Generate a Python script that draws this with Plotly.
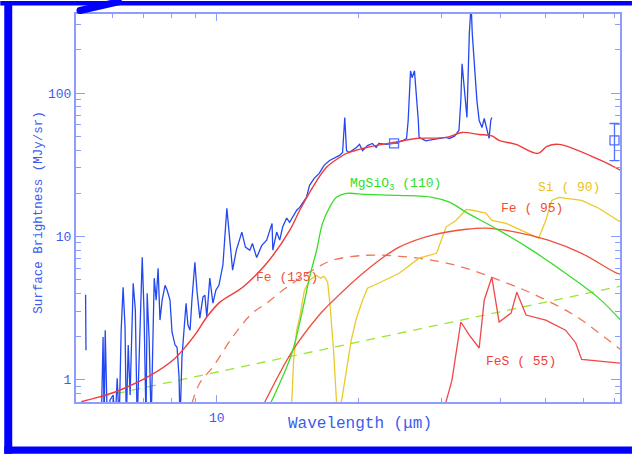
import plotly.graph_objects as go

# ---------------- data (wavelength in micron, surface brightness in MJy/sr) -------------
obs_wl = [5.26, 5.27, None,
          5.68, 5.73, 5.76, 5.79, 5.85, 5.93, 6.02, 6.08, 6.14, 6.20, 6.26, 6.32, 6.38, 6.42,
          6.48, 6.54, 6.64, 6.71, 6.77, 6.87, 6.94, 7.00, 7.07, 7.11, 7.18, 7.25, 7.36, 7.43,
          7.50, 7.57, 7.65, 7.76, 7.84, 7.95, 8.03, 8.15, 8.23, 8.31, 8.35, 8.43, 8.51, 8.60,
          8.68, 8.77, 8.85, 8.98, 9.07, 9.20, 9.34, 9.43, 9.52, 9.66, 9.81, 9.95, 10.1, 10.3,
          10.5, 10.65, 10.8, 11.0, 11.3, 11.5, 11.75, 11.9, 12.15, 12.45, 12.76, 13.1, 13.15,
          13.4, 13.6, 13.8, 14.07, 14.28, 14.78, 15.0, 15.5, 15.74, 16.1, 16.5, 16.9, 17.36,
          17.96, 18.23, 18.5, 18.7, 18.86, 19.1, 19.8, 20.1, 20.4, 20.9, 21.4, 21.8, 22.1,
          22.9, 23.8, 24.8, 25.3, 25.5, 25.8, 26.0, 26.3, 26.5, 26.8, 26.9, 27.8, 28.7, 29.7,
          30.7, 31.2, 32.0, 32.7, 33.0, 33.2, 33.5, 33.9, 34.0, 34.4, 34.7, 34.9, 35.4, 35.7,
          36.1, 36.6, 37.0, 37.5, 37.9, 38.2, 38.4]
obs_sb = [3.9, 1.6, None,
          0.5, 1.98, 0.5, 2.21, 0.5, 0.72, 0.78, 0.5, 1.02, 0.5, 2.21, 4.41, 2.32, 0.5,
          1.74, 0.78, 4.7, 3.05, 0.5, 2.21, 7.14, 3.05, 0.5, 4.0, 1.88, 0.5, 5.1, 3.58,
          5.98, 2.6, 3.58, 4.55, 4.2, 3.58, 2.14, 1.74, 1.68, 1.04, 0.5, 1.44, 2.21, 3.41,
          2.4, 2.21, 3.58, 6.59, 4.2, 2.68, 3.76, 3.88, 2.73, 5.1, 3.41, 4.2, 4.55, 6.3,
          15.7, 9.8, 5.8, 8.0, 10.7, 8.4, 8.0, 8.9, 7.1, 8.6, 9.4, 12.3, 8.0,
          10.7, 9.4, 11.6, 13.4, 12.5, 15.2, 15.9, 18.7, 22.7, 25.4, 27.5, 31.3, 33.8,
          35.5, 36.7, 38.5, 67.5, 39.6, 38.5, 41.7, 43.8, 39.6, 43.0, 44.5, 41.7, 44.5,
          43.8, 44.5, 46.4, 48.2, 64.0, 143.0, 128.0, 143.0, 109.0, 64.0, 49.0, 46.4, 47.3, 48.2,
          49.0, 48.2, 50.0, 54.8, 88.6, 160.0, 116.0, 67.5, 67.5, 260.0, 420.0, 260.0, 128.0, 88.6,
          64.3, 57.5, 66.4, 54.8, 48.2, 64.3, 67.5]

phot_wl = [23.8, 70.0]
phot_sb = [44.5, 46.7]
phot_err_plus = [0.0, 14.6]
phot_err_minus = [0.0, 12.9]

total_wl = [5.15, 5.65, 6.23, 7.21, 8.07, 8.64, 9.07, 9.52, 10.15, 11.35, 12.76, 14.28, 15.0,
            15.97, 17.1, 18.23, 18.86, 20.8, 24.4, 26.5, 30.7, 33.2, 36.1, 38.4, 39.8, 43.2,
            48.1, 50.3, 53.3, 64.8, 72.5]
total_sb = [0.70, 0.759, 0.845, 1.063, 1.367, 1.74, 2.14, 2.73, 3.47, 4.41, 6.48, 11.0, 15.2,
            21.9, 30.3, 35.5, 37.9, 41.7, 45.9, 48.2, 49.0, 53.1, 51.4, 50.2, 46.7, 43.8,
            37.9, 42.4, 43.8, 34.4, 28.6]

fe135_wl = [8.85, 9.2, 9.8, 10.8, 11.9, 12.76, 13.8, 15.97, 17.6, 20.8, 24.4, 28.7, 33.9,
            39.8, 46.7, 55.1, 59.6, 71.4, 72.5]
fe135_sb = [0.68, 0.946, 1.22, 1.98, 2.91, 3.41, 4.2, 5.79, 6.8, 7.37, 7.25, 6.8, 5.98,
            4.94, 4.0, 3.05, 2.6, 1.66, 1.6]

fe95_wl = [12.6, 14.5, 16.5, 17.1, 20.8, 24.4, 28.7, 33.9, 37.3, 43.2, 50.6, 59.6, 70.2, 72.5]
fe95_sb = [0.68, 1.6, 2.82, 3.2, 5.8, 8.4, 10.2, 11.2, 11.4, 10.7, 9.4, 7.6, 5.6, 5.4]

mgsio3_wl = [13.0, 14.07, 14.5, 15.21, 15.74, 16.29, 16.77, 17.36, 17.96, 18.86, 20.8, 24.4,
             28.7, 31.2, 33.9, 39.8, 46.7, 55.1, 64.8, 72.5]
mgsio3_sb = [0.68, 1.22, 1.6, 3.05, 5.18, 7.99, 12.3, 15.9, 18.7, 19.9, 19.6, 19.3,
             18.7, 17.3, 14.7, 11.0, 8.0, 5.52, 3.7, 2.55]

si90_wl = [14.4, 14.56, 14.78, 15.0, 15.35, 15.74, 16.29, 16.6, 16.9, 17.2, 17.4, 17.7, 17.96,
           18.1, 18.4, 18.86, 19.3, 19.8, 20.4, 20.9, 21.6, 24.4, 26.9, 29.3, 30.7, 32.2, 33.9,
           34.9, 37.3, 38.4, 41.2, 48.3, 50.0, 51.5, 53.3, 59.6, 64.8, 72.5]
si90_sb = [0.6, 1.37, 2.21, 2.73, 4.2, 4.94, 5.35, 5.1, 5.26, 4.78, 3.3, 1.6, 0.70,
           0.55, 0.70, 1.16, 1.88, 2.68, 3.58, 4.34, 4.55, 5.52, 7.03, 7.61, 11.6, 12.9, 15.4,
           15.2, 14.5, 12.9, 12.3, 9.7, 12.9, 17.8, 18.7, 17.8, 15.7, 12.4]

fes55_wl = [30.3, 31.6, 33.0, 34.4, 36.1, 37.0, 38.4, 39.8, 42.2, 43.4, 45.4, 50.0, 55.1,
            57.9, 59.6, 64.8, 71.4, 72.5]
fes55_sb = [0.6, 0.99, 2.52, 2.04, 1.66, 3.58, 5.18, 2.52, 2.91, 4.07, 2.82, 2.6, 2.21,
            1.8, 1.38, 1.35, 1.30, 1.30]

cont_wl = [5.65, 10.0, 20.0, 40.0, 72.5]
cont_sb = [0.755, 1.13, 1.83, 2.97, 4.5]

x_major = [10]
x_major_text = ["10"]
x_minor = [6, 7, 8, 9, 20, 30, 40, 50, 60, 70]
y_major = [1, 10, 100]
y_major_text = ["1", "10", "100"]
y_minor = [0.8, 0.9, 2, 3, 4, 5, 6, 7, 8, 9, 20, 30, 40, 50, 60, 70, 80, 90, 200, 300]

labels = [
    ("MgSiO<sub>3</sub> (110)", "#33dd22"),
    ("Si ( 90)", "#e8c41c"),
    ("Fe ( 95)", "#f05038"),
    ("Fe (135)", "#f05038"),
    ("FeS ( 55)", "#f04040"),
]

# ---------------- style / layout ----------------
W, H = 634, 454
L, R, T, B = 76, 622, 13, 402   # plot area in pixels


def px(xp):
    return (xp - L) / (R - L)


def py(yp):
    return (B - yp) / (B - T)


AXC = "#8c9cff"
TXC = "#3c5cf0"
FONT = "Liberation Mono"

fig = go.Figure()

fig.add_trace(go.Scatter(x=cont_wl, y=cont_sb, mode="lines",
                         line=dict(color="#9ae632", width=1.3, dash="9px,7px")))
fig.add_trace(go.Scatter(x=fe135_wl, y=fe135_sb, mode="lines", line_shape="spline",
                         line=dict(color="#f2745a", width=1.3, dash="9px,7px")))
fig.add_trace(go.Scatter(x=fes55_wl, y=fes55_sb, mode="lines",
                         line=dict(color="#f04848", width=1.3)))
fig.add_trace(go.Scatter(x=si90_wl, y=si90_sb, mode="lines",
                         line=dict(color="#ecc92a", width=1.3)))
fig.add_trace(go.Scatter(x=fe95_wl, y=fe95_sb, mode="lines", line_shape="spline",
                         line=dict(color="#f0503c", width=1.3)))
fig.add_trace(go.Scatter(x=mgsio3_wl, y=mgsio3_sb, mode="lines", line_shape="spline",
                         line=dict(color="#3adc2a", width=1.3)))
fig.add_trace(go.Scatter(x=obs_wl, y=obs_sb, mode="lines", connectgaps=False,
                         line=dict(color="#2448f0", width=1.3)))
fig.add_trace(go.Scatter(x=total_wl, y=total_sb, mode="lines", line_shape="spline",
                         line=dict(color="#f03a3a", width=1.4)))
fig.add_trace(go.Scatter(x=phot_wl, y=phot_sb, mode="markers",
                         marker=dict(symbol="square-open", size=9, color="#5070ff",
                                     line=dict(width=1.3)),
                         error_y=dict(type="data", symmetric=False, array=phot_err_plus,
                                      arrayminus=phot_err_minus, color="#5070ff",
                                      thickness=1.3, width=5)))

label_pos = [(349, 184), (538, 187), (501, 208), (255, 277), (485, 361)]
ann = []
for (txt, col), (xp, yp) in zip(labels, label_pos):
    ann.append(dict(x=px(xp), y=py(yp), xref="paper", yref="paper", text=txt,
                    showarrow=False, xanchor="left", yanchor="middle",
                    font=dict(family=FONT, size=13, color=col)))
ann.append(dict(x=px(361), y=py(435), xref="paper", yref="paper",
                text="Wavelength (\u03bcm)", showarrow=False,
                font=dict(family=FONT, size=16, color=TXC)))
ann.append(dict(x=px(30), y=py(212), xref="paper", yref="paper",
                text="Surface Brightness (MJy/sr)", showarrow=False, textangle=-90,
                font=dict(family=FONT, size=12.5, color=TXC)))

shapes = [
    dict(type="rect", xref="paper", yref="paper", x0=px(4), x1=px(12), y0=py(454), y1=py(0),
         fillcolor="#0000ff", line=dict(width=0), layer="above"),
    dict(type="rect", xref="paper", yref="paper", x0=px(0), x1=px(634), y0=py(4.5), y1=py(0),
         fillcolor="#0000ff", line=dict(width=0), layer="above"),
    dict(type="rect", xref="paper", yref="paper", x0=px(4), x1=px(634), y0=py(454),
         y1=py(446.7), fillcolor="#0000ff", line=dict(width=0), layer="above"),
    dict(type="line", xref="paper", yref="paper", x0=px(80), y0=py(9.5), x1=px(122),
         y1=py(0), line=dict(color="#0000ff", width=7), layer="above"),
    dict(type="circle", xref="paper", yref="paper", x0=px(76.5), x1=px(83.5), y0=py(13),
         y1=py(6), fillcolor="#0000ff", line=dict(width=0), layer="above"),
]

fig.update_layout(
    width=W, height=H, margin=dict(l=L, r=W - R, t=T, b=H - B),
    paper_bgcolor="white", plot_bgcolor="white", showlegend=False,
    annotations=ann, shapes=shapes,
    xaxis=dict(type="log", range=[0.7006, 1.8568], showgrid=False, zeroline=False,
               showline=True, linecolor=AXC, linewidth=2, mirror="ticks",
               ticks="inside", ticklen=7, tickwidth=1.3, tickcolor=AXC,
               tickmode="array", tickvals=x_major, ticktext=x_major_text,
               tickfont=dict(family=FONT, size=13, color=TXC), ticklabelstandoff=2,
               minor=dict(tickmode="array", tickvals=x_minor, ticklen=4, tickwidth=1.3,
                          tickcolor=AXC, ticks="inside", showgrid=False)),
    yaxis=dict(type="log", range=[-0.157, 2.552], showgrid=False, zeroline=False,
               showline=True, linecolor=AXC, linewidth=2, mirror="ticks",
               ticks="inside", ticklen=9, tickwidth=1.3, tickcolor=AXC,
               tickmode="array", tickvals=y_major, ticktext=y_major_text,
               tickfont=dict(family=FONT, size=13, color=TXC), ticklabelstandoff=0,
               minor=dict(tickmode="array", tickvals=y_minor, ticklen=5, tickwidth=1.3,
                          tickcolor=AXC, ticks="inside", showgrid=False)),
)

fig.write_html("out.html")
